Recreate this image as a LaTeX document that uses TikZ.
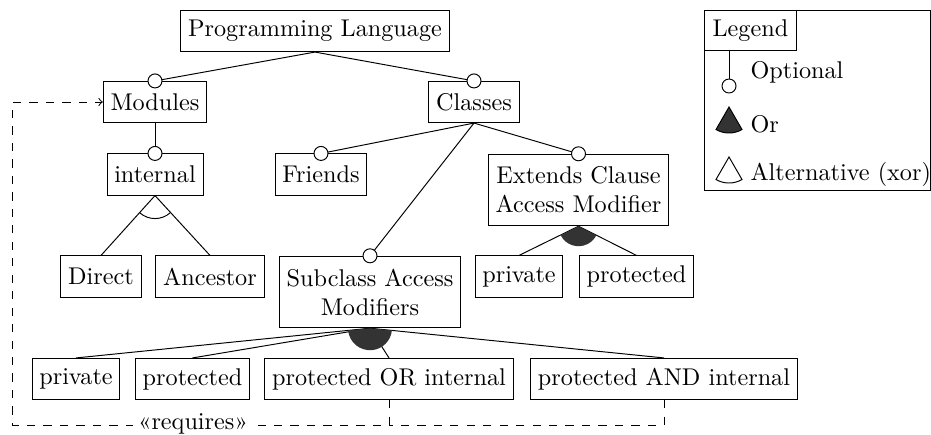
\documentclass[tikz,border=0pt]{standalone}
\begin{document}
\begin{tikzpicture}[x=0.413pt, y=-0.413pt,
    feature/.style={draw, fill=white, minimum height=17pt, inner xsep=3pt, align=center},
    twoline/.style={feature, minimum height=29.5pt},
    opt/.style={draw, fill=white},
    orgroup/.style={fill=black!80},
    req/.style={dash pattern=on 3.4pt off 3.4pt}]
  \useasboundingbox (0,0) rectangle (931,434);
  \draw
    (315,31) node[feature] (pl){Programming Language}
    (155,102) node[feature] (mod){Modules}
    (474,102) node[feature] (cls){Classes}
    (155,174.5) node[feature] (intl){internal}
    (321,174.5) node[feature] (fri){Friends}
    (578.5,190) node[twoline] (ext){Extends Clause\\Access Modifier}
    (101,276.5) node[feature] (dir){Direct}
    (210,276.5) node[feature] (anc){Ancestor}
    (370,292) node[twoline] (sam){Subclass Access\\Modifiers}
    (519,276.5) node[feature] (epriv){private}
    (636.5,276.5) node[feature] (eprot){protected}
    (76,379) node[feature] (spriv){private}
    (192.5,379) node[feature] (sprot){protected}
    (389,379) node[feature] (sor){protected OR internal}
    (664,379) node[feature] (sand){protected AND internal};
  \begin{scope}[-]
    \draw (pl.south) to (mod.north);
    \draw (pl.south) to (cls.north);
    \draw (mod.south) to (intl.north);
    \draw (intl.south) to (dir.north);
    \draw (intl.south) to (anc.north);
    \draw (cls.south) to (fri.north);
    \draw (cls.south) to (sam.north);
    \draw (cls.south) to (ext.north);
    \draw (ext.south) to (epriv.north);
    \draw (ext.south) to (eprot.north);
    \draw (sam.south) to (spriv.north);
    \draw (sam.south) to (sprot.north);
    \draw (sam.south) to (sor.north);
    \draw (sam.south) to (sand.north);
  \end{scope}
  % groups
  \draw (intl.south) ++(131.5:23) arc[start angle=131.5, end angle=48, radius=23];
  \fill[orgroup] (ext.south) -- ++(153.2:20) arc[start angle=153.2, end angle=27.3, radius=20] -- cycle;
  \fill[orgroup] (sam.south) -- ++(174.2:22) arc[start angle=174.2, end angle=5.8, radius=22] -- cycle;
  \foreach \n in {mod,cls,intl,fri,sam,ext}
    \draw[opt] (\n.north) circle[radius=7];
  % requires
  \coordinate (reqL) at (12.7,425);
  \draw[req, ->] (sor.south) |- (reqL) |- (mod.west);
  \draw[req] (sand.south) |- (sor.south |- reqL);
  \node[fill=white, inner sep=2pt] (req) at (193,424) {«requires»};
  % legend
  \draw (704,10) rectangle (930,190);
  \node[draw, anchor=north west, minimum height=16.5pt] (leg) at (704,10) {Legend};
  \coordinate (lo) at (729,86);
  \draw (lo |- leg.south) -- ([yshift=-7*0.413pt]lo);
  \draw[opt] (lo) circle[radius=7];
  \node[anchor=base west] (lopt) at (742,78) {Optional};
  \filldraw[orgroup] (729,107) -- ++(60:26) arc[start angle=60, end angle=120, radius=26] -- cycle;
  \node[anchor=base west] (lor) at (742,132) {Or};
  \draw (729,157) -- ++(60:26) arc[start angle=60, end angle=120, radius=26] -- cycle;
  \node[anchor=base west] (lalt) at (742,180) {Alternative (xor)};
\end{tikzpicture}
\end{document}
